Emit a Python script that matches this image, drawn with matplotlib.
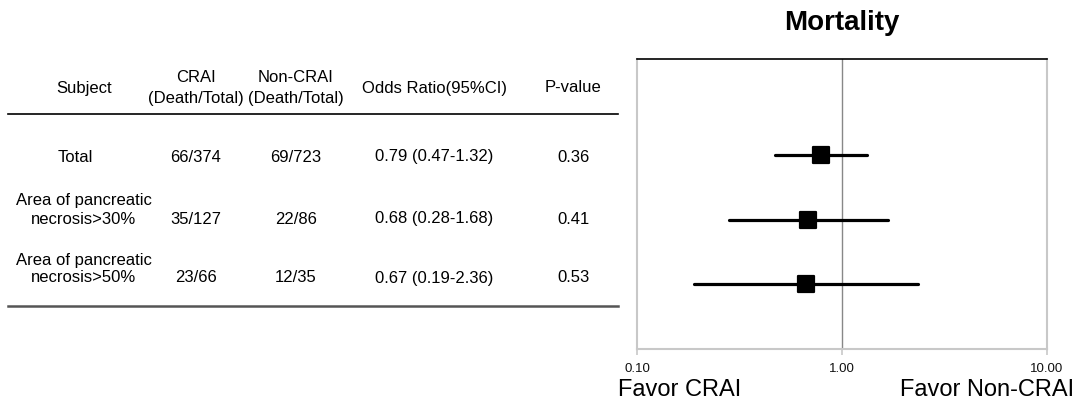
import matplotlib
matplotlib.use('Agg')
import matplotlib.pyplot as plt
from matplotlib.markers import MarkerStyle
import numpy as np

plt.rcParams['font.family'] = ['Liberation Sans', 'DejaVu Sans']

# 表格数据
subjects = ['Total', 'Area of pancreatic\nnecrosis>30%', 'Area of pancreatic\nnecrosis>50%']
crai = ['66/374', '35/127', '23/66']
non_crai = ['69/723', '22/86', '12/35']
odds_ratio = [0.79, 0.68, 0.67]
ci_low = [0.47, 0.28, 0.19]
ci_high = [1.32, 1.68, 2.36]
p_values = ['0.36', '0.41', '0.53']
x_ticks = [0.1, 1.0, 10.0]
x_tick_labels = ['0.10', '1.00', '10.00']

W, H = 1078, 401
fig = plt.figure(figsize=(W / 100, H / 100), dpi=100, facecolor='white')

# 左侧表格，用像素坐标
ax_t = fig.add_axes([0, 0, 1, 1])
ax_t.set_xlim(0, W)
ax_t.set_ylim(H, 0)
ax_t.axis('off')

fs = 12
col_x = [84, 196, 296, 434, 573]
ax_t.text(col_x[0], 88, 'Subject', ha='center', va='center', fontsize=fs)
ax_t.text(col_x[1], 77, 'CRAI', ha='center', va='center', fontsize=fs)
ax_t.text(col_x[1], 99, '(Death/Total)', ha='center', va='center', fontsize=fs)
ax_t.text(col_x[2], 77, 'Non-CRAI', ha='center', va='center', fontsize=fs)
ax_t.text(col_x[2], 99, '(Death/Total)', ha='center', va='center', fontsize=fs)
ax_t.text(col_x[3], 88, 'Odds Ratio(95%CI)', ha='center', va='center', fontsize=fs)
ax_t.text(col_x[4], 88, 'P-value', ha='center', va='center', fontsize=fs)

ax_t.plot([8, 618], [114, 114], color='black', lw=1.2)
ax_t.plot([8, 618], [306, 306], color='#555555', lw=1.8)

row_y = [157, 219, 278]
for i in range(len(subjects)):
    y = row_y[i]
    if '\n' in subjects[i]:
        l1, l2 = subjects[i].split('\n')
        ax_t.text(col_x[0], y - 18, l1, ha='center', va='center', fontsize=fs)
        ax_t.text(col_x[0], y, l2, ha='center', va='center', fontsize=fs)
    else:
        ax_t.text(col_x[0] - 9, y, subjects[i], ha='center', va='center', fontsize=fs)
    ax_t.text(col_x[1], y, crai[i], ha='center', va='center', fontsize=fs)
    ax_t.text(col_x[2], y, non_crai[i], ha='center', va='center', fontsize=fs)
    ax_t.text(col_x[3], y, '%.2f (%.2f-%.2f)' % (odds_ratio[i], ci_low[i], ci_high[i]),
              ha='center', va='center', fontsize=fs)
    ax_t.text(col_x[4], y, p_values[i], ha='center', va='center', fontsize=fs)

# 右侧森林图
left, right, top, bottom = 637, 1047, 59, 349
ax = fig.add_axes([left / W, (H - bottom) / H, (right - left) / W, (bottom - top) / H])
ax.set_xscale('log')
ax.set_xlim(0.1, 10)
ax.set_ylim(4.0, -0.49)

ax.axvline(1.0, color='#888888', lw=1, zorder=1)
ypos = np.arange(1, len(odds_ratio) + 1)
for i in range(len(odds_ratio)):
    ax.plot([ci_low[i], ci_high[i]], [ypos[i], ypos[i]], color='black', lw=2.3,
            solid_capstyle='round', zorder=2)
# 方块略带圆角
sq_marker = MarkerStyle('s', joinstyle='round')
ax.plot(odds_ratio, ypos, linestyle='none', marker=sq_marker, color='black',
        markersize=12, markeredgewidth=1.6, markeredgecolor='black', zorder=3)

for s in ['left', 'right', 'bottom']:
    ax.spines[s].set_color('#c8c8c8')
    ax.spines[s].set_linewidth(1.5)
ax.spines['top'].set_color('black')
ax.spines['top'].set_linewidth(1.2)

ax.set_yticks([])
ax.set_xticks(x_ticks)
ax.set_xticklabels(x_tick_labels)
ax.xaxis.set_minor_locator(matplotlib.ticker.NullLocator())
ax.tick_params(axis='x', length=4, color='#c8c8c8', width=1.2, labelsize=9.5,
               pad=6, labelcolor='#111111')

fig.text(842 / W, 1 - 23 / H, 'Mortality', ha='center', va='center',
         fontsize=20, fontweight='bold')
fig.text(618 / W, 1 - 390 / H, 'Favor CRAI', ha='left', va='center', fontsize=17)
fig.text(1074 / W, 1 - 390 / H, 'Favor Non-CRAI', ha='right', va='center', fontsize=17)

fig.savefig('out.png', dpi=100, facecolor='white')
plt.close(fig)
